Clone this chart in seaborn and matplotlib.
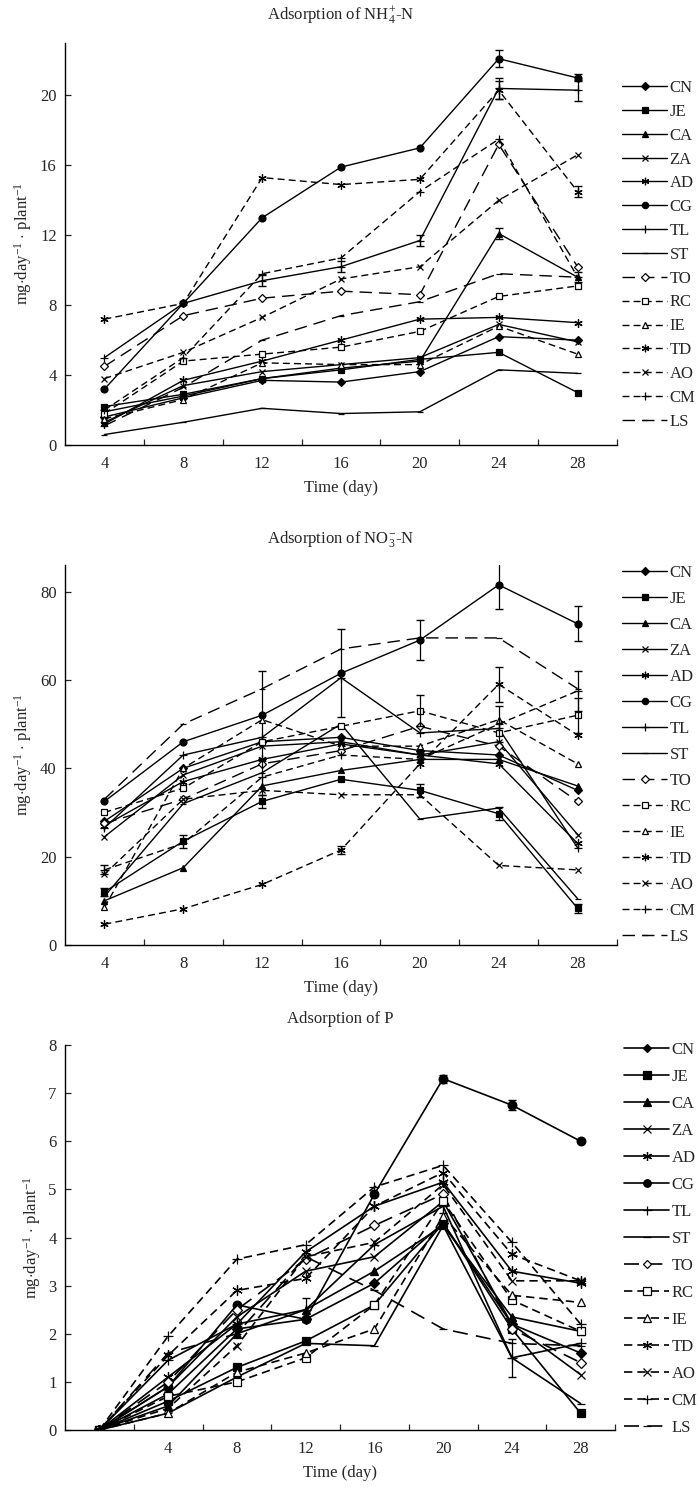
import numpy as np
import pandas as pd
import matplotlib
matplotlib.use('Agg')
import matplotlib.pyplot as plt
import seaborn as sns
from matplotlib.lines import Line2D

# series names (legend order)
series = ['CN', 'JE', 'CA', 'ZA', 'AD', 'CG', 'TL', 'ST',
          'TO', 'RC', 'IE', 'TD', 'AO', 'CM', 'LS']

# ---- NH4+-N adsorption, days 4..28
nh4_days = [4, 8, 12, 16, 20, 24, 28]
nh4_CN = [1.6, 2.7, 3.7, 3.6, 4.2, 6.2, 6.0]
nh4_JE = [2.2, 2.9, 3.8, 4.3, 4.9, 5.3, 3.0]
nh4_CA = [1.9, 2.8, 3.8, 4.4, 4.8, 12.1, 9.6]
nh4_ZA = [1.3, 3.4, 4.2, 4.6, 5.0, 6.9, 5.9]
nh4_AD = [1.2, 3.7, 4.8, 6.0, 7.2, 7.3, 7.0]
nh4_CG = [3.2, 8.1, 13.0, 15.9, 17.0, 22.1, 21.0]
nh4_TL = [5.0, 8.1, 9.4, 10.2, 11.7, 20.4, 20.3]
nh4_ST = [0.6, 1.3, 2.1, 1.8, 1.9, 4.3, 4.1]
nh4_TO = [4.5, 7.4, 8.4, 8.8, 8.6, 17.2, 10.2]
nh4_RC = [1.8, 4.8, 5.2, 5.6, 6.5, 8.5, 9.1]
nh4_IE = [1.5, 2.6, 4.7, 4.6, 4.6, 6.8, 5.2]
nh4_TD = [7.2, 8.1, 15.3, 14.9, 15.2, 20.3, 14.5]
nh4_AO = [3.8, 5.3, 7.3, 9.5, 10.2, 14.0, 16.6]
nh4_CM = [2.0, 5.0, 9.8, 10.7, 14.5, 17.5, 9.6]
nh4_LS = [1.1, 3.3, 6.0, 7.4, 8.2, 9.8, 9.6]
nh4_err_CG = [0, 0, 0, 0, 0, 0.5, 0.2]
nh4_err_TL = [0, 0, 0.3, 0.3, 0.3, 0.6, 0.6]
nh4_err_CA = [0, 0, 0, 0, 0, 0.3, 0.3]
nh4_err_TD = [0, 0, 0, 0, 0, 0.5, 0.3]

# ---- NO3--N adsorption, days 4..28
no3_days = [4, 8, 12, 16, 20, 24, 28]
no3_CN = [28, 40, 46, 47, 44, 43, 35]
no3_JE = [12, 23.5, 32.5, 37.5, 35, 29.7, 8.3]
no3_CA = [10, 17.5, 36, 39.5, 42, 42, 36]
no3_ZA = [24.5, 38.5, 45, 46, 43, 46, 25]
no3_AD = [27, 37, 42, 45.5, 43, 41, 23]
no3_CG = [32.5, 46, 52, 61.5, 69, 81.5, 72.7]
no3_TL = [26.5, 43, 47, 60.5, 48, 49, 22]
no3_ST = [11, 32, 39, 50, 28.5, 31, 10.5]
no3_TO = [27.5, 33, 41, 44, 49.5, 45, 32.5]
no3_RC = [30, 35.5, 46, 49.5, 53, 48, 52]
no3_IE = [8.5, 40, 51, 45, 45, 51, 41]
no3_TD = [4.7, 8.2, 13.7, 21.5, 41, 59, 47.5]
no3_AO = [16, 33, 35, 34, 34, 18, 17]
no3_CM = [17, 23, 38, 43, 42, 50, 57.5]
no3_LS = [33, 50, 58, 67, 69.5, 69.5, 58]
no3_err_CG = [0, 0, 10, 10, 4.5, 5.5, 4]
no3_err_RC = [0, 0, 0, 0, 3.5, 0, 4]
no3_err_JE = [1, 1.5, 1.5, 0, 1.5, 1.5, 1]
no3_err_CM = [1, 0, 4, 0, 0, 4, 4.5]
no3_err_TD = [0, 0, 0, 1, 0, 4, 0]

# ---- P adsorption, days 0..28
p_days = [0, 4, 8, 12, 16, 20, 24, 28]
p_CN = [0, 0.75, 2.1, 2.3, 3.05, 4.3, 2.2, 1.6]
p_JE = [0, 0.6, 1.3, 1.85, 2.6, 4.3, 2.1, 0.35]
p_CA = [0, 0.5, 2.0, 2.5, 3.3, 4.25, 2.35, 2.05]
p_ZA = [0, 0.9, 2.35, 3.3, 3.6, 4.75, 2.2, 1.15]
p_AD = [0, 1.1, 2.2, 3.7, 4.65, 5.15, 3.3, 3.05]
p_CG = [0, 0.9, 2.6, 2.3, 4.9, 7.3, 6.75, 6.0]
p_TL = [0, 1.45, 2.2, 2.5, 3.85, 4.65, 1.5, 1.8]
p_ST = [0, 0.35, 1.1, 1.8, 1.75, 4.25, 1.5, 0.55]
p_TO = [0, 1.0, 2.5, 3.55, 4.25, 4.9, 2.1, 1.4]
p_RC = [0, 0.7, 1.0, 1.5, 2.6, 4.75, 2.7, 2.05]
p_IE = [0, 0.35, 1.2, 1.6, 2.1, 4.45, 2.8, 2.65]
p_TD = [0, 1.55, 2.9, 3.15, 4.65, 5.35, 3.65, 3.1]
p_AO = [0, 0.45, 1.75, 3.6, 3.9, 5.1, 3.1, 3.1]
p_CM = [0, 1.95, 3.55, 3.85, 5.05, 5.5, 3.9, 2.2]
p_LS = [0, 1.6, 2.0, 3.6, 2.9, 2.1, 1.8, 1.75]
p_err_CG = [0, 0, 0, 0, 0, 0.08, 0.1, 0]
p_err_TL = [0, 0, 0, 0.25, 0, 0.15, 0.4, 0]

nh4 = {s: globals()['nh4_' + s] for s in series}
no3 = {s: globals()['no3_' + s] for s in series}
pp = {s: globals()['p_' + s] for s in series}
nh4_err = {'CG': nh4_err_CG, 'TL': nh4_err_TL, 'CA': nh4_err_CA, 'TD': nh4_err_TD}
no3_err = {'CG': no3_err_CG, 'RC': no3_err_RC, 'JE': no3_err_JE,
           'CM': no3_err_CM, 'TD': no3_err_TD}
p_err = {'CG': p_err_CG, 'TL': p_err_TL}

star = (6, 2, 0)
LONG = (0, (9, 5))
DASH = (0, (5, 3))
style = {
    'CN': dict(marker='D', mfc='k', ls='-', ms=4),
    'JE': dict(marker='s', mfc='k', ls='-', ms=5),
    'CA': dict(marker='^', mfc='k', ls='-', ms=5),
    'ZA': dict(marker='x', mfc='k', ls='-', ms=5),
    'AD': dict(marker=star, mfc='k', ls='-', ms=6),
    'CG': dict(marker='o', mfc='k', ls='-', ms=5),
    'TL': dict(marker='+', mfc='k', ls='-', ms=6),
    'ST': dict(marker='_', mfc='k', ls='-', ms=5),
    'TO': dict(marker='D', mfc='white', ls=LONG, ms=4),
    'RC': dict(marker='s', mfc='white', ls=DASH, ms=5),
    'IE': dict(marker='^', mfc='white', ls=DASH, ms=5),
    'TD': dict(marker=star, mfc='k', ls=DASH, ms=6),
    'AO': dict(marker='x', mfc='k', ls=DASH, ms=5),
    'CM': dict(marker='+', mfc='k', ls=DASH, ms=6),
    'LS': dict(marker='_', mfc='k', ls=LONG, ms=5),
}

sns.set_style('ticks')
plt.rcParams['font.family'] = ['Liberation Serif', 'DejaVu Serif']
plt.rcParams['mathtext.fontset'] = 'custom'
plt.rcParams['mathtext.rm'] = 'Liberation Serif'
plt.rcParams['mathtext.it'] = 'Liberation Serif:italic'

fig = plt.figure(figsize=(7, 14.9), dpi=100)

W, H = 700.0, 1490.0


def make_axes(left, top, right, bottom):
    return fig.add_axes([left / W, 1 - bottom / H, (right - left) / W, (bottom - top) / H])


def draw_panel(ax, days, data, errs, ymax, yticks, title, labels, lw, scale):
    pos = list(range(len(days)))
    for s in series:
        st = style[s]
        df = pd.DataFrame({'pos': pos, 'val': data[s]})
        sns.lineplot(data=df, x='pos', y='val', ax=ax, color='k', linewidth=lw,
                     linestyle=st['ls'], marker=st['marker'],
                     markersize=st['ms'] * scale, markerfacecolor=st['mfc'],
                     markeredgecolor='k', markeredgewidth=0.9, legend=False)
        if s in errs:
            e = np.array(errs[s], dtype=float)
            m = e > 0
            ax.errorbar(np.array(pos)[m], np.array(data[s])[m], yerr=e[m], fmt='none',
                        ecolor='k', elinewidth=0.9, capsize=3)
    ax.set_xlim(-0.5, len(days) - 0.5)
    ax.set_ylim(0, ymax)
    ax.set_yticks(yticks)
    ax.set_xticks(pos, labels)
    ax.set_xticks(np.arange(0.5, len(days), 1.0), minor=True)
    ax.tick_params(axis='x', which='major', length=0, pad=8, labelsize=12)
    ax.tick_params(axis='x', which='minor', length=4, direction='in', width=0.9)
    ax.tick_params(axis='y', length=4, direction='in', width=0.9, labelsize=12, pad=6)
    sns.despine(ax=ax)
    for sp in ['left', 'bottom']:
        ax.spines[sp].set_linewidth(1.0)
        ax.spines[sp].set_color('k')
    ax.set_xlabel('Time (day)', fontsize=12, labelpad=6)
    ax.set_ylabel(r'mg$\cdot$day$^{\mathregular{-1}}$ $\cdot$ plant$^{\mathregular{-1}}$',
                  fontsize=12, labelpad=4)
    ax.set_title(title, fontsize=12, pad=16)


def add_legend(x, y, spacing, scale, lw, fs):
    handles = []
    for s in series:
        st = style[s]
        handles.append(Line2D([], [], color='k', lw=lw, linestyle=st['ls'],
                              marker=st['marker'], markersize=st['ms'] * scale * 0.9,
                              markerfacecolor=st['mfc'], markeredgecolor='k',
                              markeredgewidth=0.9))
    fig.legend(handles, series, loc='upper left', bbox_to_anchor=(x / W, 1 - y / H),
               frameon=False, fontsize=fs, handlelength=2.7, handletextpad=0.15,
               labelspacing=spacing, borderaxespad=0, borderpad=0)


ax1 = make_axes(65, 43, 617, 445)
draw_panel(ax1, nh4_days, nh4, nh4_err, 23, [0, 4, 8, 12, 16, 20],
           r'Adsorption of NH$_{\mathregular{4}}^{\mathregular{+}}$-N',
           [str(d) for d in nh4_days], 1.0, 1.0)
add_legend(622, 80, 0.47, 1.0, 1.0, 12)

ax2 = make_axes(65, 565, 617, 945)
draw_panel(ax2, no3_days, no3, no3_err, 86, [0, 20, 40, 60, 80],
           r'Adsorption of NO$_{\mathregular{3}}^{\mathregular{-}}$-N',
           [str(d) for d in no3_days], 1.0, 1.0)
add_legend(622, 565, 0.6, 1.0, 1.0, 12)

ax3 = make_axes(65, 1045, 615, 1430)
draw_panel(ax3, p_days, pp, p_err, 8, list(range(9)),
           'Adsorption of P',
           [''] + [str(d) for d in p_days[1:]], 1.2, 1.25)
add_legend(624, 1042, 0.66, 1.2, 1.2, 12)

plt.savefig('out.png', dpi=100)
plt.close()
